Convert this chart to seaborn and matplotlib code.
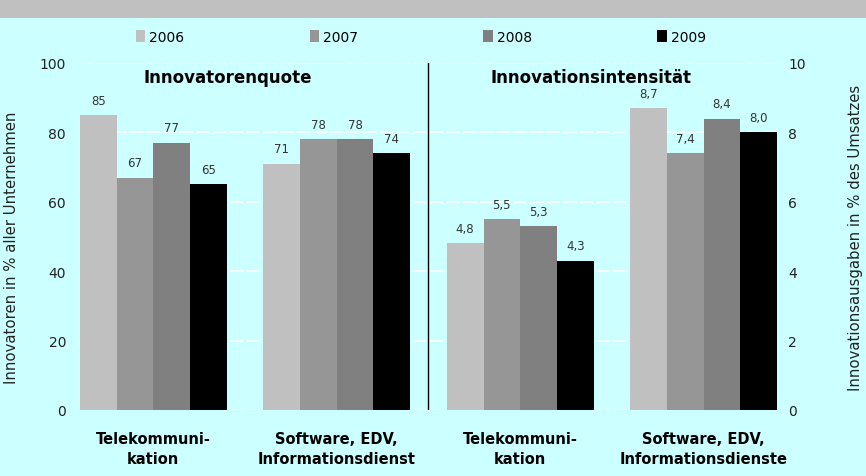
import pandas as pd
import seaborn as sns
import matplotlib.pyplot as plt
from matplotlib.patches import Rectangle

# ---- data ----
years = ['2006', '2007', '2008', '2009']
groups = ['tk_quote', 'sw_quote', 'tk_int', 'sw_int']
group_labels = ['Telekommuni-\nkation', 'Software, EDV,\nInformationsdienst',
                'Telekommuni-\nkation', 'Software, EDV,\nInformationsdienste']
quote_tk = [85, 67, 77, 65]
quote_sw = [71, 78, 78, 74]
int_tk = [4.8, 5.5, 5.3, 4.3]
int_sw = [8.7, 7.4, 8.4, 8.0]
colors = ['#c0c0c0', '#969696', '#808080', '#000000']

df_q = pd.DataFrame({'group': ['tk_quote'] * 4 + ['sw_quote'] * 4,
                     'year': years * 2, 'value': quote_tk + quote_sw})
df_i = pd.DataFrame({'group': ['tk_int'] * 4 + ['sw_int'] * 4,
                     'year': years * 2, 'value': int_tk + int_sw})

bg = '#ccffff'
fig, ax = plt.subplots(figsize=(8.66, 4.77), dpi=100)
fig.patch.set_facecolor(bg)
ax.set_facecolor(bg)
fig.subplots_adjust(left=80 / 866, right=777 / 866, top=1 - 64 / 477, bottom=1 - 411 / 477)

# gray band at the top
fig.patches.append(Rectangle((0, 1 - 19 / 477), 1, 19 / 477, transform=fig.transFigure,
                             facecolor='#c0c0c0', edgecolor='none', zorder=0))

ax2 = ax.twinx()

# ---- bars ----
sns.barplot(data=df_q, x='group', y='value', hue='year', order=groups, hue_order=years,
            palette=colors, saturation=1, width=0.8, ax=ax)
sns.barplot(data=df_i, x='group', y='value', hue='year', order=groups, hue_order=years,
            palette=colors, saturation=1, width=0.8, ax=ax2, legend=False)

handles, labels = ax.get_legend_handles_labels()
ax.get_legend().remove()

for c in ax.containers:
    ax.bar_label(c, labels=[f'{v:.0f}' for v in c.datavalues], padding=6,
                 fontsize=8.5, color='#333333')
for c in ax2.containers:
    ax2.bar_label(c, labels=[f'{v:.1f}'.replace('.', ',') for v in c.datavalues], padding=6,
                  fontsize=8.5, color='#333333')

# ---- axes ----
ax.set_xlim(-0.4, 3.4)
ax.set_ylim(0, 100)
ax2.set_ylim(0, 10)
ax.set_yticks([0, 20, 40, 60, 80, 100])
ax2.set_yticks([0, 2, 4, 6, 8, 10])
ax.set_xticks(range(4))
ax.set_xticklabels(group_labels, fontweight='bold', fontsize=10.5, linespacing=1.4)
ax.set_xlabel('')
ax.tick_params(axis='x', length=0, pad=15)
ax.tick_params(axis='y', length=0, pad=10, labelsize=10, labelcolor='#222222')
ax2.tick_params(axis='y', length=0, pad=8, labelsize=10, labelcolor='#222222')

for a in (ax, ax2):
    for s in a.spines.values():
        s.set_visible(False)

ax.set_axisbelow(True)
ax.yaxis.grid(True, color='white', linestyle=(0, (8, 2)), linewidth=1.2)
ax2.grid(False)

ax.set_ylabel('Innovatoren in % aller Unternehmen', fontsize=10.7, color='#222222')
ax.yaxis.set_label_coords(-0.087, 0.47)
ax2.set_ylabel('Innovationsausgaben in % des Umsatzes', fontsize=10.7, color='#222222',
               rotation=90)
ax2.yaxis.set_label_coords(1.102, 0.5)

# divider between the two panels
ax.axvline(1.5, color='black', linewidth=1)

ax.text(0.407, 96, 'Innovatorenquote', ha='center', va='center',
        fontsize=12, fontweight='bold')
ax.text(2.386, 96, 'Innovationsintensität', ha='center', va='center',
        fontsize=12, fontweight='bold')

fig.legend(handles, labels, loc='center', bbox_to_anchor=(421 / 866, 1 - 38 / 477),
           ncol=4, frameon=False, fontsize=10, handlelength=0.7, handleheight=0.9,
           handletextpad=0.3, columnspacing=9)

plt.savefig('out.png', dpi=100, facecolor=fig.get_facecolor())
